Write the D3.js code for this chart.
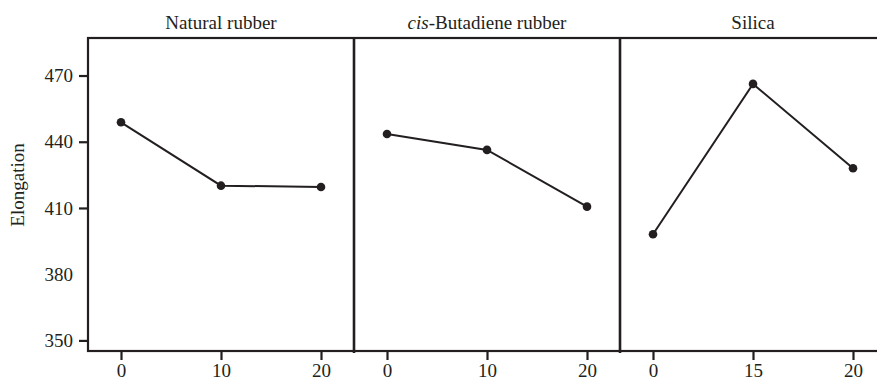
<!DOCTYPE html>
<html>
<head>
<meta charset="utf-8">
<script src="https://cdn.jsdelivr.net/npm/d3@7"></script>
<style>
  html, body { margin: 0; padding: 0; background: #fff; }
  svg { display: block; }
</style>
</head>
<body>
<svg id="chart" width="877" height="381"></svg>
<script>
// Main effects of each factor on elongation
const factors = ["Natural rubber", "cis-Butadiene rubber", "Silica"];
const levelsNR = ["0", "10", "20"];
const levelsBR = ["0", "10", "20"];
const levelsSi = ["0", "15", "20"];
const elongNR = [448.8, 420.1, 419.5];
const elongBR = [443.5, 436.3, 410.6];
const elongSi = [398.1, 466.2, 428.0];
const yTicks = [350, 380, 410, 440, 470];

const ink = "#231f20";
const serif = "'Liberation Serif', 'Times New Roman', Times, serif";
const fontSize = 19;
const svg = d3.select("#chart");

const plotLeft = 88, plotTop = 38, plotBottom = 351, panelW = 266;

const y = d3.scaleLinear().domain([345.2, 487]).range([plotBottom, plotTop]);

// y axis
const yAxis = svg.append("g")
  .attr("transform", `translate(${plotLeft},0)`)
  .call(d3.axisLeft(y).tickValues(yTicks).tickSize(9).tickPadding(6).tickFormat(d3.format("d")));
yAxis.attr("font-family", serif).attr("font-size", fontSize);
yAxis.select(".domain").remove();
yAxis.selectAll(".tick line").attr("stroke", ink).attr("stroke-width", 2.2)
  .filter(d => d === 380).remove();
yAxis.selectAll(".tick text").attr("fill", ink);

svg.append("text")
  .attr("transform", `translate(23.5,185) rotate(-90)`)
  .attr("text-anchor", "middle")
  .attr("font-family", serif)
  .attr("font-size", fontSize)
  .attr("fill", ink)
  .text("Elongation");

const panels = [
  { title: factors[0], levels: levelsNR, values: elongNR, italic: false },
  { title: factors[1], levels: levelsBR, values: elongBR, italic: true },
  { title: factors[2], levels: levelsSi, values: elongSi, italic: false }
];

panels.forEach((p, i) => {
  const x0 = plotLeft + i * panelW;
  const x = d3.scalePoint().domain(p.levels).range([x0, x0 + panelW]).padding(0.33);

  // x axis ticks
  const xAxis = svg.append("g")
    .attr("transform", `translate(0,${plotBottom})`)
    .call(d3.axisBottom(x).tickSize(9).tickPadding(3.5));
  xAxis.attr("font-family", serif).attr("font-size", fontSize);
  xAxis.select(".domain").remove();
  xAxis.selectAll(".tick line").attr("stroke", ink).attr("stroke-width", 2.2);
  xAxis.selectAll(".tick text").attr("fill", ink);

  // panel title
  const t = svg.append("text")
    .attr("x", x0 + panelW / 2)
    .attr("y", 28.5)
    .attr("text-anchor", "middle")
    .attr("font-family", serif)
    .attr("font-size", fontSize)
    .attr("fill", ink);
  if (p.italic) {
    const parts = p.title.split("-");
    t.append("tspan").attr("font-style", "italic").text(parts[0]);
    t.append("tspan").text("-" + parts.slice(1).join("-"));
  } else {
    t.text(p.title);
  }

  const pts = p.levels.map((l, k) => [x(l), y(p.values[k])]);
  svg.append("path")
    .attr("d", d3.line()(pts))
    .attr("fill", "none")
    .attr("stroke", ink)
    .attr("stroke-width", 2);
  svg.append("g").selectAll("circle")
    .data(pts)
    .join("circle")
    .attr("cx", d => d[0])
    .attr("cy", d => d[1])
    .attr("r", 4.3)
    .attr("fill", ink);
});

// frame and panel dividers
const plotRight = plotLeft + 3 * panelW;
svg.append("rect")
  .attr("x", plotLeft).attr("y", plotTop)
  .attr("width", plotRight - plotLeft).attr("height", plotBottom - plotTop)
  .attr("fill", "none").attr("stroke", ink).attr("stroke-width", 2.2);
[1, 2].forEach(k => {
  svg.append("line")
    .attr("x1", plotLeft + k * panelW).attr("x2", plotLeft + k * panelW)
    .attr("y1", plotTop).attr("y2", plotBottom + 2)
    .attr("stroke", ink).attr("stroke-width", 2.6);
});
</script>
</body>
</html>
